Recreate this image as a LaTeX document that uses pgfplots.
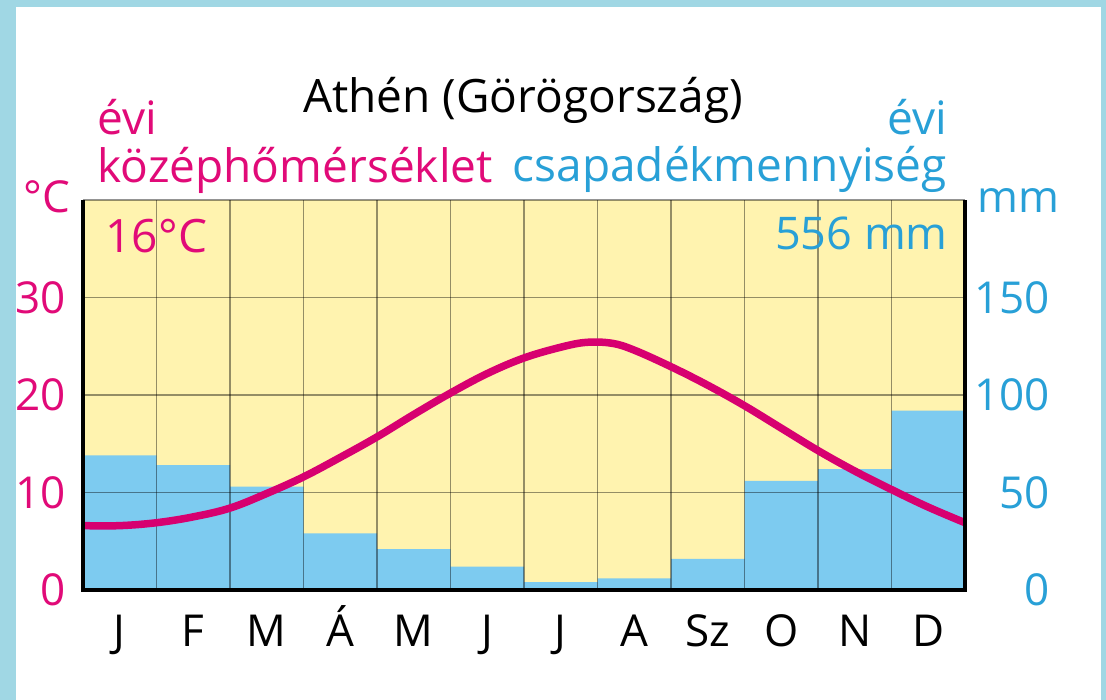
\documentclass[border=0pt]{standalone}
\usepackage{fontspec}
\setmainfont{Open Sans}
\usepackage{pgfplots}
\pgfplotsset{compat=1.18}
\definecolor{bordercol}{RGB}{160,215,228}
\definecolor{plotyellow}{RGB}{255,243,175}
\definecolor{barblue}{RGB}{125,203,240}
\definecolor{curvecol}{RGB}{215,0,112}
\definecolor{magtext}{RGB}{225,10,120}
\definecolor{cyantext}{RGB}{40,160,215}
\newcommand{\tf}{\fontsize{44}{50}\selectfont}
\newcommand{\lf}{\fontsize{46}{52}\selectfont}
\begin{document}
\begin{tikzpicture}[x=1pt,y=1pt]
\fill[bordercol] (-83,-110) rectangle (1023,590);
\fill[white] (-67,-110) rectangle (1018,583);
% precipitation axis (mm)
\begin{axis}[
  at={(0,0)}, anchor=south west,
  scale only axis, width=882pt, height=390pt,
  xmin=0, xmax=12, ymin=0, ymax=200,
  axis background/.style={fill=plotyellow},
  axis line style={draw=none},
  xtick=\empty,
  ytick={0,50,100,150},
  yticklabels={0,50,100,150},
  yticklabel pos=right,
  major tick length=0pt,
  yticklabel style={anchor=east, inner sep=0pt, xshift=85pt, text=cyantext, font=\tf},
]
\addplot[ybar, bar width=1, bar shift=0pt, fill=barblue, draw=none] coordinates {
(0.5,69) (1.5,64) (2.5,53) (3.5,29) (4.5,21) (5.5,12)
(6.5,4) (7.5,6) (8.5,16) (9.5,56) (10.5,62) (11.5,92)};
\end{axis}
% temperature axis (C)
\begin{axis}[
  at={(0,0)}, anchor=south west,
  scale only axis, width=882pt, height=390pt,
  xmin=0, xmax=12, ymin=0, ymax=40,
  axis line style={draw=none},
  xtick={0.5,1.5,2.5,3.5,4.5,5.5,6.5,7.5,8.5,9.5,10.5,11.5},
  xticklabels={J,F,M,Á,M,J,J,A,Sz,O,N,D},
  minor xtick={1,2,3,4,5,6,7,8,9,10,11},
  xminorgrids=true,
  ytick={0,10,20,30},
  yticklabels={0,10,20,30},
  ymajorgrids=true,
  major tick length=0pt, minor tick length=0pt,
  major grid style={black, opacity=0.42, line width=1.2pt},
  minor grid style={black, opacity=0.42, line width=1.2pt},
  xticklabel style={anchor=base, inner sep=0pt, yshift=-57pt, font=\tf},
  yticklabel style={anchor=east, inner sep=0pt, xshift=-17pt, text=magtext, font=\tf},
  clip=false,
]
\addplot[curvecol, line width=7.5pt, smooth, tension=0.6, no markers] coordinates {
(0,6.6) (0.5,6.6) (1,6.9) (1.5,7.5) (2,8.4) (2.5,9.9) (3,11.6) (3.5,13.6)
(4,15.7) (4.5,18.0) (5,20.2) (5.5,22.2) (6,23.8) (6.5,24.9) (6.85,25.4) (7.2,25.3)
(7.5,24.6) (8,22.9) (8.5,21.0) (9,18.9) (9.5,16.6) (10,14.3) (10.5,12.2)
(11,10.3) (11.5,8.5) (12,6.9)};
\end{axis}
% frame
\draw[black, opacity=0.42, line width=1.2pt] (0,390) -- (882,390);
\draw[black, line width=4.5pt, line join=miter] (0,390) -- (0,0) -- (882,0) -- (882,390);
% texts
\node[anchor=base, inner sep=0pt, font=\fontsize{46}{52}\selectfont] at (440,477) {Athén (Görögország)};
\node[anchor=base west, inner sep=0pt, font=\lf, text=magtext] at (14,455) {évi};
\node[anchor=base west, inner sep=0pt, font=\lf, text=magtext] at (14,407) {középhőmérséklet};
\node[anchor=base east, inner sep=0pt, font=\lf, text=cyantext] at (864,455) {évi};
\node[anchor=base east, inner sep=0pt, font=\lf, text=cyantext] at (864,408) {csapadékmennyiség};
\node[anchor=base east, inner sep=0pt, font=\tf, text=magtext] at (-13,377) {°C};
\node[anchor=base west, inner sep=0pt, font=\tf, text=cyantext] at (894,377) {mm};
\node[anchor=base west, inner sep=0pt, font=\fontsize{46}{52}\selectfont, text=magtext] at (22,337) {16\kern1pt°C};
\node[anchor=base east, inner sep=0pt, font=\fontsize{45}{52}\selectfont, text=cyantext] at (865,340) {556 mm};
\pgfresetboundingbox
\useasboundingbox (-83,-110) rectangle (1023,590);
\end{tikzpicture}
\end{document}
